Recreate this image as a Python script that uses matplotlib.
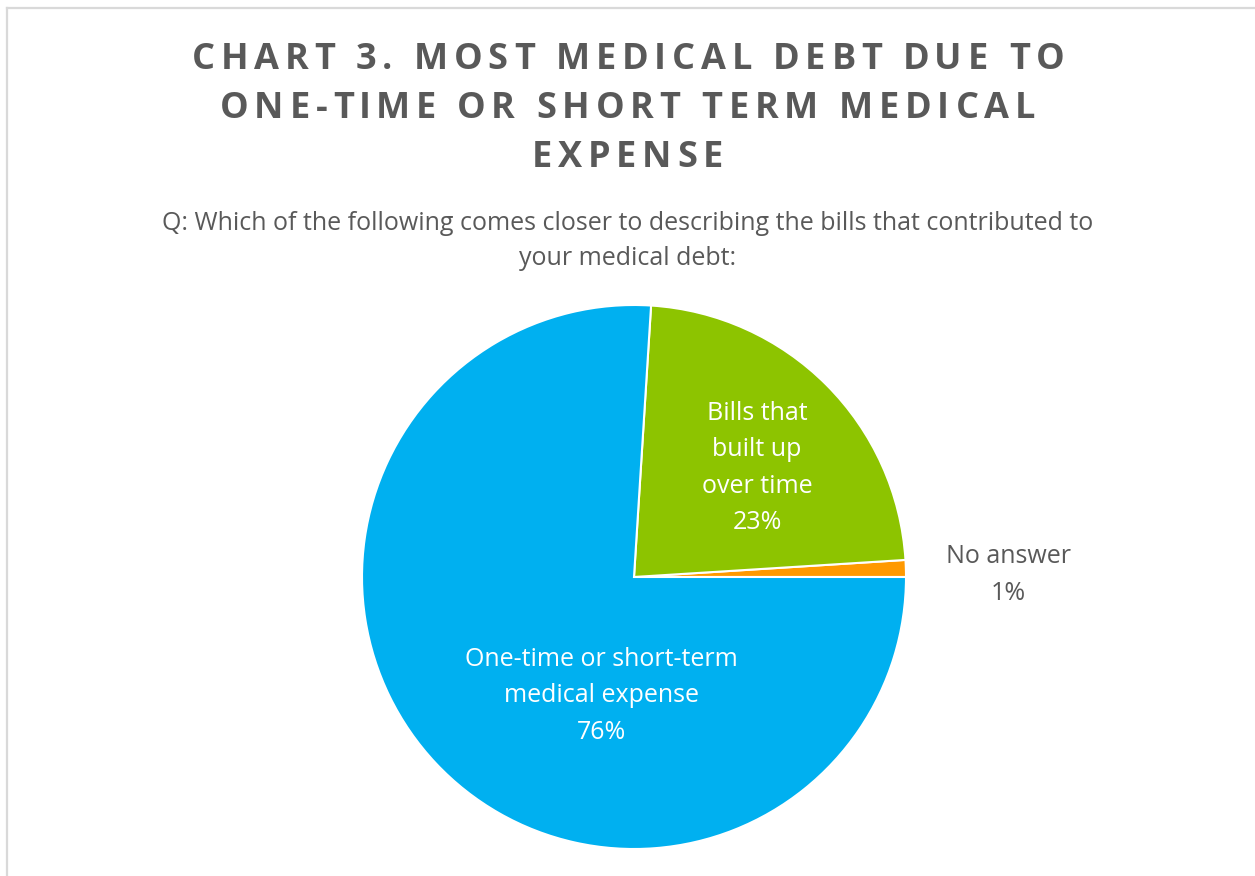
import matplotlib
matplotlib.use("Agg")
import matplotlib.pyplot as plt
from matplotlib.font_manager import FontProperties
from matplotlib.lines import Line2D

plt.rcParams['font.family'] = ['Open Sans', 'DejaVu Sans']

# survey answers, counter-clockwise from 3 o'clock
labels = ["No answer", "Bills that\nbuilt up\nover time", "One-time or short-term\nmedical expense"]
shares = [1, 23, 76]
colors = ["#FF9900", "#8DC400", "#00B0F0"]

title_lines = ["CHART 3. MOST MEDICAL DEBT DUE TO",
               "ONE-TIME OR SHORT TERM MEDICAL",
               "EXPENSE"]
question = "Q: Which of the following comes closer to describing the bills that contributed to\nyour medical debt:"

W, H = 1255, 876
fig = plt.figure(figsize=(W / 100, H / 100), dpi=100)
fig.patch.set_facecolor("white")

# light frame on top and left edges
fig.add_artist(Line2D([7 / W, 1], [1 - 7.5 / H, 1 - 7.5 / H], color="#D9D9D9", lw=1.6))
fig.add_artist(Line2D([7 / W, 7 / W], [0, 1 - 7.5 / H], color="#D9D9D9", lw=1.6))

renderer = fig.canvas.get_renderer()


def text_width(s, prop):
    w, _, _ = renderer.get_text_width_height_descent(s + "X", prop, ismath=False)
    wx, _, _ = renderer.get_text_width_height_descent("X", prop, ismath=False)
    return w - wx


def spaced_title(s, y_px, size, track):
    prop = FontProperties(family=['Open Sans', 'DejaVu Sans'], weight='bold', size=size)
    total = text_width(s, prop) + track * (len(s) - 1)
    x0 = W / 2 - total / 2
    for i, ch in enumerate(s):
        if ch == " ":
            continue
        x = x0 + text_width(s[:i], prop) + track * i
        fig.text(x / W, 1 - y_px / H, ch, fontproperties=prop, color="#595959",
                 ha="left", va="center")


for line, y in zip(title_lines, [60, 109, 158]):
    spaced_title(line, y, 26, 5.8)

fig.text(0.5, 1 - 241 / H, question, ha="center", va="center", fontsize=18,
         color="#595959", linespacing=1.52)

# pie: centre (634, 577) px, radius 272 px
r = 272
ax = fig.add_axes([(634 - r) / W, (H - 577 - r) / H, 2 * r / W, 2 * r / H])
wedges, _ = ax.pie(shares, colors=colors, startangle=0, counterclock=True,
                   wedgeprops=dict(edgecolor="white", linewidth=1.5))
ax.set_xlim(-1, 1)
ax.set_ylim(-1, 1)
ax.set_aspect("equal")
ax.axis("off")

label_pos = [(1.375, 0.007), (0.452, 0.401), (-0.121, -0.437)]
label_col = ["#595959", "white", "white"]
for lab, v, (x, y), c in zip(labels, shares, label_pos, label_col):
    ax.text(x, y, f"{lab}\n{v}%", ha="center", va="center", fontsize=18,
            color=c, linespacing=1.6, clip_on=False)

fig.savefig("out.png", dpi=100, facecolor="white")
